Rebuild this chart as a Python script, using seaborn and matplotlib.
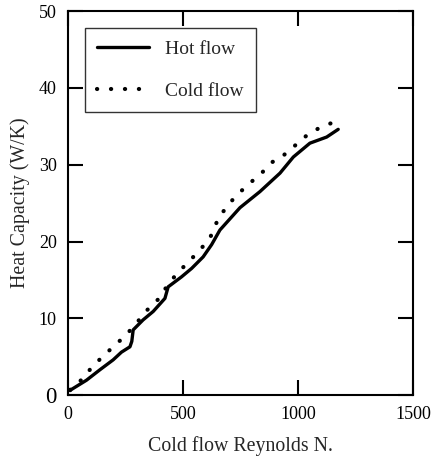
import numpy as np
import pandas as pd
import matplotlib
matplotlib.use("Agg")
import matplotlib.pyplot as plt
import seaborn as sns

# values
hot_re = [10, 16, 81, 139, 197, 233, 270, 278, 284, 327, 371, 422, 436, 494, 538,
          588, 625, 661, 748, 835, 922, 980, 1052, 1125, 1175]
hot_cap = [0.6, 0.75, 1.95, 3.3, 4.6, 5.6, 6.3, 7.0, 8.5, 9.8, 10.9, 12.6, 14.1, 15.4, 16.5,
           18.0, 19.6, 21.5, 24.4, 26.5, 28.9, 31.0, 32.8, 33.6, 34.6]
cold_re = [10, 67, 103, 154, 201, 252, 299, 342, 397, 429, 473, 523, 571, 617, 654,
           697, 740, 791, 842, 886, 929, 980, 1038, 1088, 1160]
cold_cap = [0.7, 2.2, 3.6, 5.1, 6.4, 7.8, 9.4, 11.0, 12.6, 14.1, 15.8, 17.3, 18.8, 20.4, 23.0,
            24.8, 26.2, 27.6, 28.9, 30.3, 31.0, 32.3, 33.8, 34.7, 35.6]

x_ticks = [0, 500, 1000, 1500]
y_ticks = [0, 10, 20, 30, 40, 50]

sns.set_style("ticks")
plt.rcParams['font.family'] = ['Liberation Serif', 'DejaVu Serif']

fig = plt.figure(figsize=(4.32, 4.59), dpi=100)
ax = fig.add_axes([0.157, 0.139, 0.799, 0.837])

dot_style = (0, (0.05, 3.3))

hot = pd.DataFrame({'re': hot_re, 'cap': hot_cap})
cold = pd.DataFrame({'re': cold_re, 'cap': cold_cap})
sns.lineplot(data=hot, x='re', y='cap', ax=ax, color='black', lw=2.4,
             label='Hot flow', sort=False)
sns.lineplot(data=cold, x='re', y='cap', ax=ax, color='black', lw=3.0,
             label='Cold flow', sort=False, dashes=False)
ax.lines[1].set_linestyle(dot_style)
ax.lines[1].set_dash_capstyle('round')

ax.set_xlim(0, 1500)
ax.set_ylim(0, 50)
ax.set_xticks(x_ticks)
ax.set_yticks(y_ticks)
ax.tick_params(direction='in', length=11, width=1.5, top=True, right=True,
               labelsize=13, pad=8, colors='black')
for lab in ax.get_yticklabels():
    if lab.get_text() == '0':
        lab.set_fontsize(16.5)
for s in ax.spines.values():
    s.set_linewidth(1.5)
    s.set_color('black')

ax.set_xlabel('Cold flow Reynolds N.', fontsize=14.3, labelpad=9)
ax.set_ylabel('Heat Capacity (W/K)', fontsize=14.3, labelpad=6)

leg = ax.legend(loc='upper left', bbox_to_anchor=(0.049, 0.956), borderaxespad=0,
                fontsize=14, frameon=True, fancybox=False, edgecolor='black',
                handlelength=2.7, labelspacing=1.25, borderpad=0.62, handletextpad=0.8)
leg.get_frame().set_linewidth(1.0)
leg.legend_handles[1].set_linestyle(dot_style)
leg.legend_handles[1].set_dash_capstyle('round')

fig.savefig('out.png', dpi=100)
